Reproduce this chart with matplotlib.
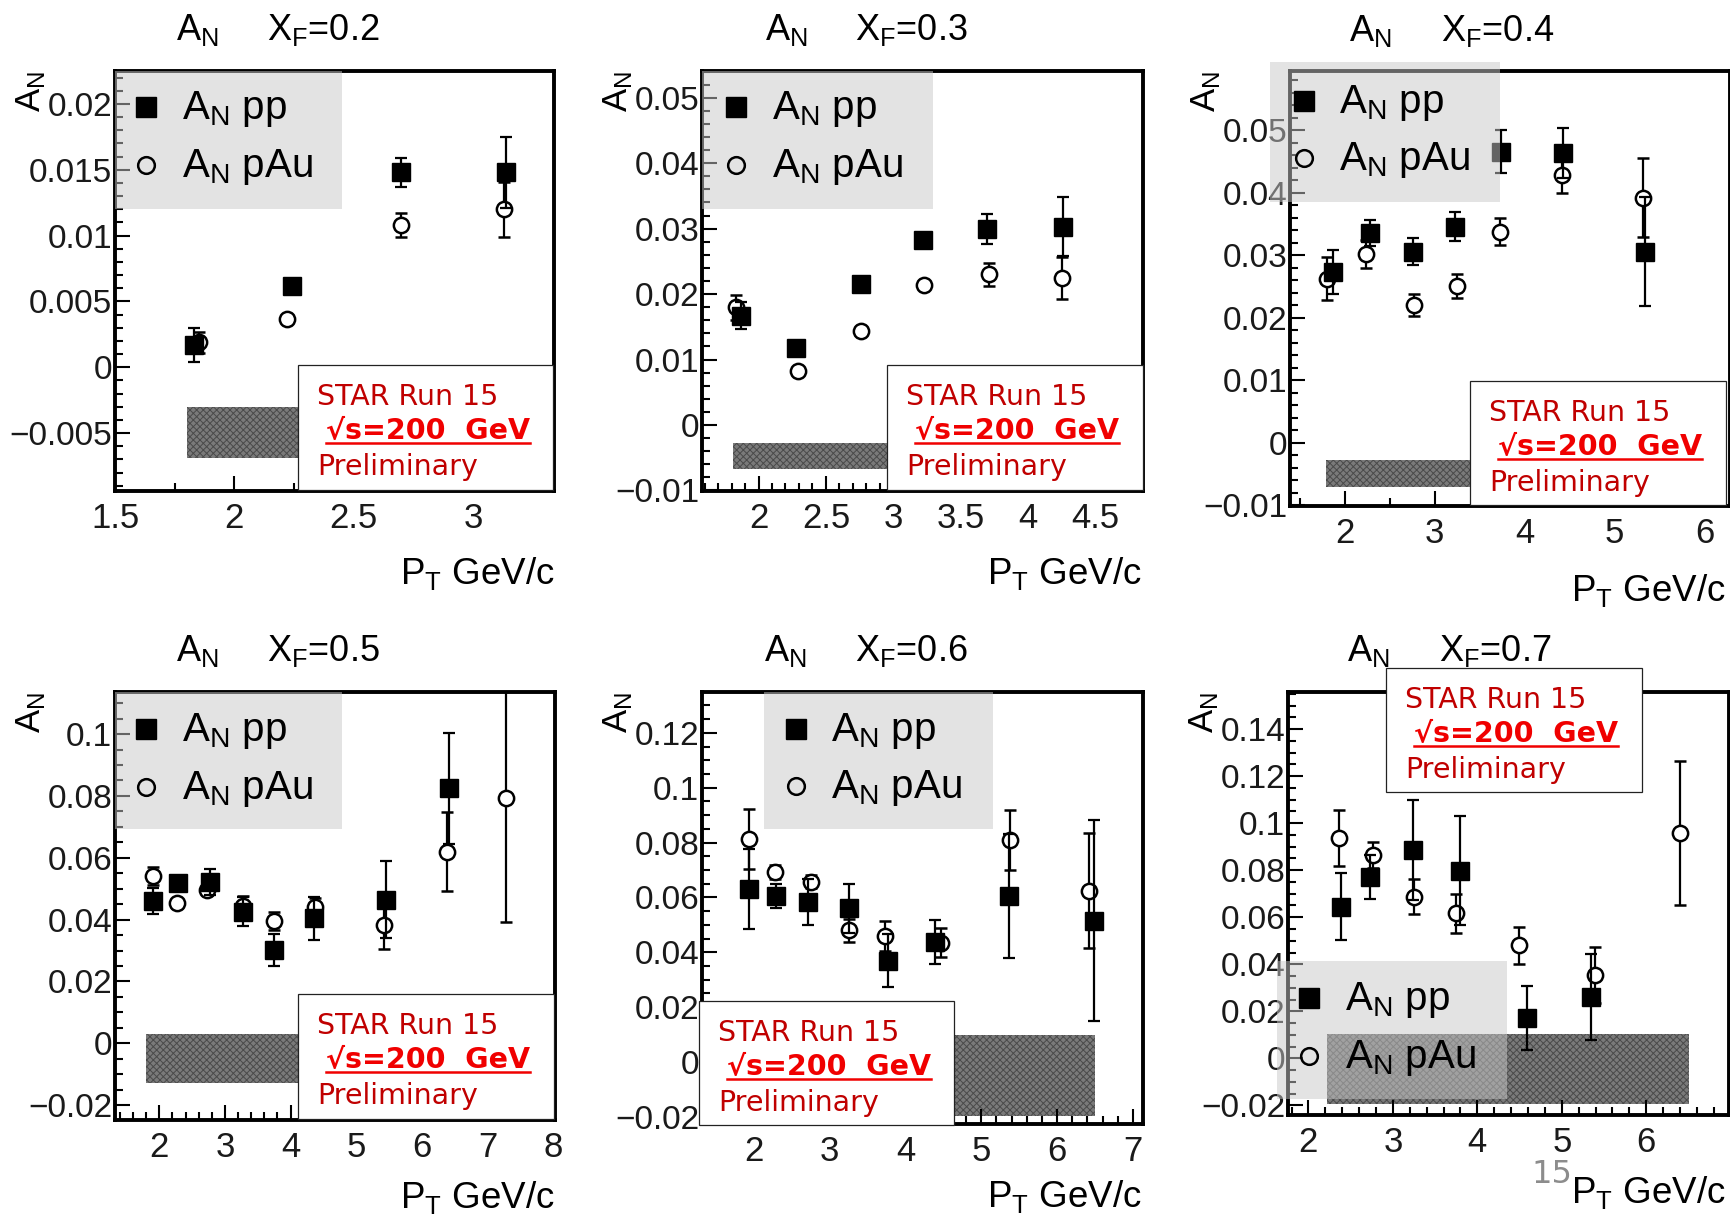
import matplotlib
matplotlib.use('Agg')
import matplotlib.pyplot as plt
from matplotlib.patches import Rectangle
from matplotlib.lines import Line2D
from matplotlib.ticker import MultipleLocator, FuncFormatter

plt.rcParams['font.family'] = ['Liberation Sans', 'DejaVu Sans']
plt.rcParams['mathtext.fontset'] = 'custom'
plt.rcParams['mathtext.rm'] = 'Liberation Sans'
plt.rcParams['mathtext.it'] = 'Liberation Sans:italic'
plt.rcParams['mathtext.default'] = 'regular'
plt.rcParams['hatch.linewidth'] = 0.7

# ---------------- data ----------------
xf_values = ['0.2', '0.3', '0.4', '0.5', '0.6', '0.7']

pp_pt_02 = [1.83, 2.24, 2.70, 3.14]
pp_an_02 = [0.0017, 0.0062, 0.0148, 0.0148]
pp_err_02 = [0.0013, 0.0003, 0.0011, 0.0027]
pau_pt_02 = [1.85, 2.22, 2.70, 3.13]
pau_an_02 = [0.0019, 0.0037, 0.0108, 0.0120]
pau_err_02 = [0.0008, 0.0003, 0.0009, 0.0021]

pp_pt_03 = [1.87, 2.28, 2.76, 3.22, 3.70, 4.26]
pp_an_03 = [0.0167, 0.0117, 0.0215, 0.0282, 0.0300, 0.0303]
pp_err_03 = [0.0021, 0.0006, 0.0006, 0.0008, 0.0023, 0.0045]
pau_pt_03 = [1.83, 2.29, 2.76, 3.23, 3.71, 4.25]
pau_an_03 = [0.0180, 0.0083, 0.0144, 0.0214, 0.0230, 0.0224]
pau_err_03 = [0.0019, 0.0005, 0.0005, 0.0006, 0.0018, 0.0032]

pp_pt_04 = [1.87, 2.28, 2.76, 3.23, 3.74, 4.42, 5.34]
pp_an_04 = [0.0273, 0.0336, 0.0306, 0.0346, 0.0466, 0.0463, 0.0306]
pp_err_04 = [0.0035, 0.0021, 0.0021, 0.0023, 0.0034, 0.0040, 0.0087]
pau_pt_04 = [1.80, 2.24, 2.77, 3.25, 3.73, 4.41, 5.31]
pau_an_04 = [0.0263, 0.0302, 0.0221, 0.0251, 0.0338, 0.0428, 0.0392]
pau_err_04 = [0.0034, 0.0022, 0.0018, 0.0019, 0.0022, 0.0029, 0.0063]

pp_pt_05 = [1.90, 2.28, 2.77, 3.28, 3.74, 4.36, 5.45, 6.42]
pp_an_05 = [0.0461, 0.0519, 0.0523, 0.0426, 0.0302, 0.0404, 0.0465, 0.0824]
pp_err_05 = [0.0042, 0.0020, 0.0042, 0.0048, 0.0053, 0.0070, 0.0125, 0.0180]
pau_pt_05 = [1.90, 2.27, 2.73, 3.27, 3.75, 4.37, 5.43, 6.38, 7.28]
pau_an_05 = [0.0541, 0.0453, 0.0496, 0.0445, 0.0397, 0.0440, 0.0384, 0.0619, 0.0793]
pau_err_05 = [0.0030, 0.0015, 0.0015, 0.0030, 0.0029, 0.0030, 0.0080, 0.0128, 0.0400]

pp_pt_06 = [1.94, 2.29, 2.72, 3.26, 3.77, 4.39, 5.36, 6.49]
pp_an_06 = [0.0630, 0.0605, 0.0584, 0.0560, 0.0369, 0.0439, 0.0605, 0.0515]
pp_err_06 = [0.0146, 0.0045, 0.0084, 0.0090, 0.0097, 0.0080, 0.0227, 0.0366]
pau_pt_06 = [1.94, 2.28, 2.76, 3.25, 3.73, 4.47, 5.38, 6.42]
pau_an_06 = [0.0813, 0.0694, 0.0657, 0.0481, 0.0459, 0.0435, 0.0810, 0.0625]
pau_err_06 = [0.0108, 0.0025, 0.0023, 0.0042, 0.0056, 0.0053, 0.0110, 0.0210]

pp_pt_07 = [2.38, 2.73, 3.24, 3.79, 4.59, 5.34]
pp_an_07 = [0.0645, 0.0770, 0.0886, 0.0798, 0.0171, 0.0262]
pp_err_07 = [0.0142, 0.0094, 0.0213, 0.0233, 0.0135, 0.0183]
pau_pt_07 = [2.36, 2.77, 3.25, 3.75, 4.49, 5.39, 6.40]
pau_an_07 = [0.0936, 0.0865, 0.0687, 0.0617, 0.0481, 0.0354, 0.0959]
pau_err_07 = [0.0120, 0.0056, 0.0075, 0.0083, 0.0079, 0.0120, 0.0307]

# systematic bands: pT range and asymmetry range per panel
band_pt_lo = [1.80, 1.81, 1.79, 1.80, 1.80, 2.22]
band_pt_hi = [3.20, 3.50, 5.40, 6.50, 6.50, 6.51]
band_an_lo = [-0.0069, -0.0068, -0.0071, -0.0128, -0.0196, -0.0194]
band_an_hi = [-0.0030, -0.0028, -0.0028, 0.0031, 0.0099, 0.0105]

# axis ranges
x_ranges = [(1.5, 3.34), (1.58, 4.855), (1.393, 6.28), (1.324, 8.03), (1.317, 7.132), (1.758, 6.98)]
y_ranges = [(-0.0094, 0.0225), (-0.0101, 0.0541), (-0.0101, 0.0595),
            (-0.0248, 0.1136), (-0.0226, 0.1349), (-0.0241, 0.1558)]
x_major = [0.5, 0.5, 1, 1, 1, 1]
x_minor = [0.25, 0.1, 0.5, 0.2, 0.2, 0.2]
y_major = [0.005, 0.01, 0.01, 0.02, 0.02, 0.02]
y_minor = [0.001, 0.002, 0.002, 0.005, 0.005, 0.005]

pp_pt = [pp_pt_02, pp_pt_03, pp_pt_04, pp_pt_05, pp_pt_06, pp_pt_07]
pp_an = [pp_an_02, pp_an_03, pp_an_04, pp_an_05, pp_an_06, pp_an_07]
pp_err = [pp_err_02, pp_err_03, pp_err_04, pp_err_05, pp_err_06, pp_err_07]
pau_pt = [pau_pt_02, pau_pt_03, pau_pt_04, pau_pt_05, pau_pt_06, pau_pt_07]
pau_an = [pau_an_02, pau_an_03, pau_an_04, pau_an_05, pau_an_06, pau_an_07]
pau_err = [pau_err_02, pau_err_03, pau_err_04, pau_err_05, pau_err_06, pau_err_07]

# ---------------- layout (pixels, y from top) ----------------
W, H = 1731, 1221
AX = [(115, 71, 554, 491), (702, 71, 1143, 491), (1290, 71, 1730, 506),
      (115, 692, 555, 1120), (702, 692, 1143, 1124), (1288, 692, 1729, 1115)]
LEG = [((115, 71, 342, 209), 146, 107, 165, 182),
       ((702, 71, 933, 209), 736, 107, 165, 772),
       ((1270, 62, 1500, 202), 1304, 101, 158, 1339),
       ((115, 692, 342, 829), 146, 729, 787, 182),
       ((764, 692, 993, 829), 796, 729, 786, 831),
       ((1277, 961, 1507, 1099), 1309, 998, 1056, 1345)]
BOX = [(298, 365, 553, 490), (887, 365, 1143, 490), (1470, 381, 1726, 505),
       (298, 994, 554, 1119), (699, 1001, 954, 1125), (1386, 668, 1642, 792)]
TITLE = [(176, 267, 40), (765, 855, 40), (1349, 1441, 41),
         (176, 267, 661), (764, 855, 661), (1347, 1439, 661)]
XLAB = [(555, 584), (1142, 584), (1726, 601), (555, 1208), (1142, 1207), (1726, 1203)]

fig = plt.figure(figsize=(W / 100, H / 100), dpi=100)
fig.patch.set_facecolor('white')


def fx(x):
    return x / W


def fy(y):
    return 1 - y / H


def fmt(v, pos=None):
    v = round(v, 6)
    if abs(v) < 1e-9:
        return '0'
    return ('%g' % v).replace('-', '\u2212')


TICK_COL = '#1a1a1a'
underline_jobs = []

for i in range(6):
    x0, y0, x1, y1 = AX[i]
    ax = fig.add_axes([fx(x0), fy(y1), (x1 - x0) / W, (y1 - y0) / H])
    ax.set_facecolor('white')
    ax.set_xlim(*x_ranges[i])
    ax.set_ylim(*y_ranges[i])
    for s in ax.spines.values():
        s.set_linewidth(2.8)
        s.set_color('black')
    ax.xaxis.set_major_locator(MultipleLocator(x_major[i]))
    ax.xaxis.set_minor_locator(MultipleLocator(x_minor[i]))
    ax.yaxis.set_major_locator(MultipleLocator(y_major[i]))
    ax.yaxis.set_minor_locator(MultipleLocator(y_minor[i]))
    ax.xaxis.set_major_formatter(FuncFormatter(fmt))
    ax.yaxis.set_major_formatter(FuncFormatter(fmt))
    ax.tick_params(which='both', direction='in', top=False, right=False, color='black', width=1.5)
    ax.tick_params(which='major', length=11)
    ax.tick_params(which='minor', length=6)
    ax.tick_params(axis='x', which='major', labelsize=25, pad=8, labelcolor=TICK_COL)
    ax.tick_params(axis='y', which='major', labelsize=24, pad=2, labelcolor=TICK_COL)

    # systematic band
    ax.fill_between([band_pt_lo[i], band_pt_hi[i]], band_an_lo[i], band_an_hi[i],
                    facecolor='#7a7a7a', edgecolor='#4a4a4a', hatch='xxxxx',
                    linewidth=0, zorder=1)

    ax.errorbar(pau_pt[i], pau_an[i], yerr=pau_err[i], fmt='o', ms=11,
                mfc='white', mec='black', mew=1.8, ecolor='black',
                elinewidth=1.6, capsize=4, capthick=1.6, zorder=3)
    ax.errorbar(pp_pt[i], pp_an[i], yerr=pp_err[i], fmt='s', ms=13.5,
                mfc='black', mec='black', ecolor='black',
                elinewidth=1.6, capsize=4, capthick=1.6, zorder=4)

    # title
    ta, tx, tb = TITLE[i]
    fig.text(fx(ta), fy(tb), r'$A_N$', fontsize=26, ha='left', va='baseline', zorder=1.5)
    fig.text(fx(tx), fy(tb), r'$X_F$=' + xf_values[i], fontsize=26, ha='left',
             va='baseline', zorder=1.5)
    # axis labels
    fig.text(fx(x0 - 67), fy(y0), r'$A_N$', fontsize=25, rotation=90,
             ha='right', va='top', zorder=1.5)
    xr, xb = XLAB[i]
    fig.text(fx(xr), fy(xb), r'$P_T$ GeV/c', fontsize=26.5, ha='right',
             va='baseline', zorder=1.5)

    # legend (semi-transparent grey box, like the reference)
    (lx0, ly0, lx1, ly1), mx, r1, r2, tl = LEG[i]
    fig.add_artist(Rectangle((fx(lx0), fy(ly1)), (lx1 - lx0) / W, (ly1 - ly0) / H,
                             transform=fig.transFigure, facecolor='#c8c8c8',
                             edgecolor='none', alpha=0.5, zorder=1))
    fig.add_artist(Line2D([fx(mx)], [fy(r1)], transform=fig.transFigure, marker='s',
                          ms=14, mfc='black', mec='black', ls='none', zorder=3))
    fig.add_artist(Line2D([fx(mx)], [fy(r2)], transform=fig.transFigure, marker='o',
                          ms=12, mfc='none', mec='black', mew=1.8, ls='none', zorder=3))
    fig.text(fx(tl), fy(r1 + 12), r'$A_N$ pp', fontsize=29, ha='left',
             va='baseline', zorder=3)
    fig.text(fx(tl), fy(r2 + 12), r'$A_N$ pAu', fontsize=29, ha='left',
             va='baseline', zorder=3)

    # STAR text box
    bx0, by0, bx1, by1 = BOX[i]
    fig.add_artist(Rectangle((fx(bx0), fy(by1)), (bx1 - bx0) / W, (by1 - by0) / H,
                             transform=fig.transFigure, facecolor='white',
                             edgecolor='#222222', linewidth=0.9, zorder=2))
    fig.text(fx(bx0 + 19), fy(by0 + 40), 'STAR Run 15', fontsize=20.5,
             family='DejaVu Sans', color='#c00000', ha='left', va='baseline', zorder=3)
    t = fig.text(fx(bx0 + 28), fy(by0 + 74), '\u221as=200  GeV', fontsize=20.5,
                 family='DejaVu Sans', fontweight='bold', color='#f00000',
                 ha='left', va='baseline', zorder=3)
    underline_jobs.append((t, by0 + 78))
    fig.text(fx(bx0 + 19), fy(by0 + 110), 'Preliminary', fontsize=20.5,
             family='DejaVu Sans', color='#c00000', ha='left', va='baseline', zorder=3)

# underline the energy line
fig.canvas.draw()
r = fig.canvas.get_renderer()
for t, uy in underline_jobs:
    bb = t.get_window_extent(renderer=r)
    fig.add_artist(Line2D([bb.x0 / W, bb.x1 / W], [fy(uy), fy(uy)],
                          transform=fig.transFigure, color='#f00000',
                          linewidth=1.8, zorder=3))

# slide page number
fig.text(fx(1531), fy(1183), '15', fontsize=23, family='DejaVu Sans',
         color='#8c8c8c', ha='left', va='baseline', zorder=3)

fig.savefig('out.png', dpi=100, facecolor='white')
